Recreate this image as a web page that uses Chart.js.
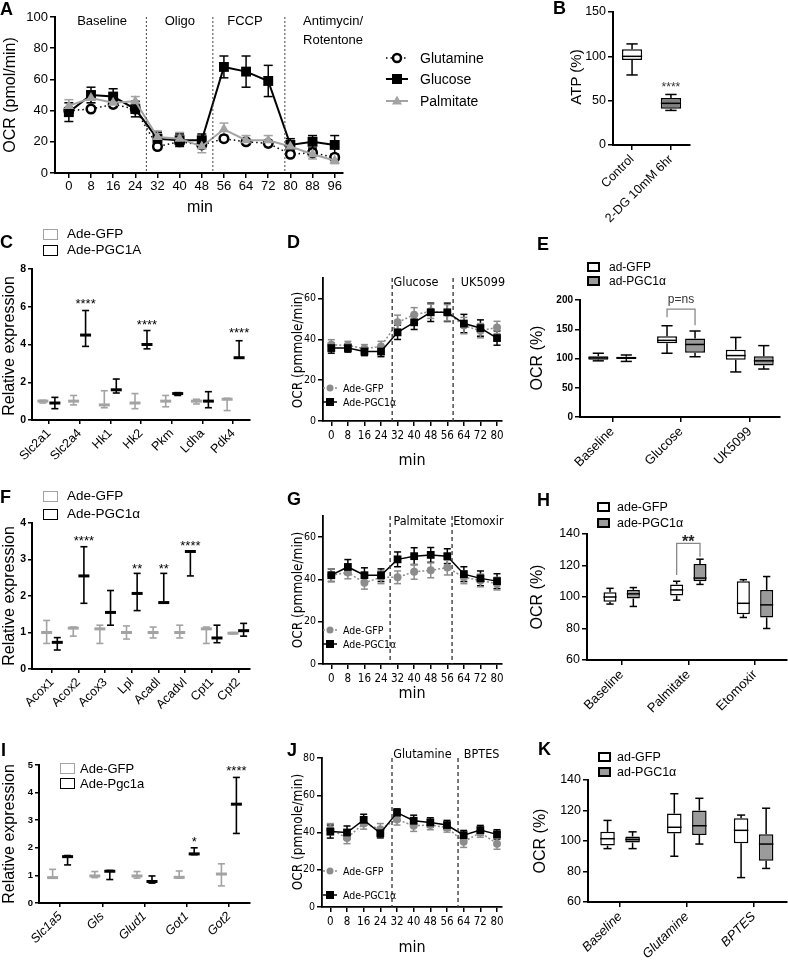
<!DOCTYPE html>
<html><head><meta charset="utf-8">
<script src="https://cdn.jsdelivr.net/npm/chart.js@4.4.1/dist/chart.umd.min.js"></script>
<style>
body{margin:0;background:#fff;}
#root{position:relative;width:788px;height:960px;overflow:hidden;background:#fff;color:#000;}
.t{position:absolute;white-space:nowrap;line-height:1;}
.bx{position:absolute;box-sizing:border-box;}
canvas{position:absolute;}
</style></head><body><div id="root"></div>
<script>
// ---------- DATA ----------
// Panel A
const aTimes = [0,8,16,24,32,40,48,56,64,72,80,88,96];
const aGlutamine = [40,41,44,41,17,20,18,22,20,19,12,13,10];
const aGlutamineSem = [2,2,2,2,2,2,2,2,2,2,2,2,2];
const aGlucose = [39,50,49,41,22,21,21,68,65,59,18,20,18];
const aGlucoseSem = [6,5,5,5,4,4,4,7,10,10,4,4,6];
const aPalmitate = [43,48,45,46,23,22,17,28,21,21,17,12,8];
const aPalmitateSem = [4,3,3,3,4,4,4,4,3,3,3,3,2];
const aYTicks = [0,20,40,60,80,100];
// Panel B
const bCats = ['Control','2-DG 10mM 6hr'];
const bMin = [79,39], bQ1 = [96,41], bMed = [100,47], bQ3 = [108,53], bMax = [114,57];
const bYTicks = [0,50,100,150];
// Panel C
const cGenes = ['Slc2a1','Slc2a4','Hk1','Hk2','Pkm','Ldha','Pdk4'];
const cGfp = [1.0,1.0,0.8,0.9,1.0,1.0,1.1];
const cGfpLo = [0.9,0.8,0.65,0.6,0.7,0.85,0.5];
const cGfpHi = [1.05,1.3,1.55,1.4,1.3,1.1,1.15];
const cPgc = [0.9,4.5,1.6,4.0,1.4,1.0,3.3];
const cPgcLo = [0.6,3.9,1.43,3.77,1.3,0.65,3.3];
const cPgcHi = [1.2,5.8,2.17,4.74,1.45,1.5,4.2];
const cYTicks = [0,2,4,6,8];
// Panel D
const dTimes = [0,8,16,24,32,40,48,56,64,72,80];
const dGfp = [37.3,37,35.4,36.5,48.3,52,53.7,53,46.7,44.2,45.8];
const dGfpSem = [2.5,2,2,2.5,3.5,3.5,3.5,4,4,3.5,3];
const dPgc = [35.7,35.7,34,34,43.4,48.3,53.2,53.2,47.7,45.5,40.6];
const dPgcSem = [2.5,2,2,2.5,3.5,3.5,4.5,4.5,4.5,4,3.5];
const dYTicks = [0,20,40,60];
// Panel E
const eCats = ['Baseline','Glucose','UK5099'];
const eGfpMin = [96,109,77], eGfpQ1 = [98,126,98], eGfpMed = [101,131,105], eGfpQ3 = [104,138,115], eGfpMax = [109,156,136];
const ePgcMin = [95,103,82], ePgcQ1 = [99,110,88], ePgcMed = [101,124,96], ePgcQ3 = [103,134,104], ePgcMax = [106,147,122];
const eYTicks = [0,50,100,150,200];
// Panel F
const fGenes = ['Acox1','Acox2','Acox3','Lpl','Acadl','Acadvl','Cpt1','Cpt2'];
const fGfp = [1.0,1.12,1.1,1.0,1.0,1.0,1.1,0.98];
const fGfpLo = [0.7,0.9,0.7,0.82,0.85,0.85,0.7,0.96];
const fGfpHi = [1.33,1.15,1.2,1.18,1.15,1.2,1.15,1.0];
const fPgc = [0.73,2.55,1.55,2.07,1.82,3.22,0.85,1.05];
const fPgcLo = [0.52,1.8,1.2,1.6,1.82,2.55,0.72,0.9];
const fPgcHi = [0.86,3.35,2.15,2.62,2.62,3.22,1.2,1.25];
const fYTicks = [0,1,2,3,4];
// Panel G
const gTimes = [0,8,16,24,32,40,48,56,64,72,80];
const gGfp = [42,43.3,38.4,41,41,43.6,44.3,45.6,41,39.5,38];
const gGfpSem = [3,3,3,3,3,3.5,3.5,3.5,3,3,3];
const gPgc = [42,45.9,42,42,49.5,51,51.6,51,42.5,40.5,39.2];
const gPgcSem = [3,3.5,3.5,3,3.5,4,3.5,3.5,3.5,3.5,3.5];
const gYTicks = [0,20,40,60];
// Panel H
const hCats = ['Baseline','Palmitate','Etomoxir'];
const hGfpMin = [95.5,98,87], hGfpQ1 = [97,101,89], hGfpMed = [100,104.5,96], hGfpQ3 = [103,108,110], hGfpMax = [105.5,110,111];
const hPgcMin = [94,108,80], hPgcQ1 = [99,110,87], hPgcMed = [102,112,95], hPgcQ3 = [104.5,121,104.5], hPgcMax = [106,124,113];
const hYTicks = [60,80,100,120,140];
// Panel I
const iGenes = ['Slc1a5','Gls','Glud1','Got1','Got2'];
const iGfp = [0.92,0.98,0.98,0.93,1.05];
const iGfpLo = [0.92,0.92,0.9,0.9,0.62];
const iGfpHi = [1.22,1.14,1.14,1.16,1.42];
const iPgc = [1.68,1.15,0.78,1.78,3.58];
const iPgcLo = [1.38,0.85,0.72,1.75,2.52];
const iPgcHi = [1.72,1.18,0.98,2.0,4.55];
const iYTicks = [0,1,2,3,4,5];
// Panel J
const jTimes = [0,8,16,24,32,40,48,56,64,72,80];
const jGfp = [41.8,37,44.8,41.8,47,43.6,44,42.7,35,40,34];
const jGfpSem = [3,3,3,3,3,3,2.5,2.5,3,2.5,3];
const jPgc = [40.5,40,46.8,39.6,50.7,46.3,45.4,44,38.6,41.3,39];
const jPgcSem = [3.5,3.5,3,2.5,2,3,2.5,2.5,2.5,2.5,2.5];
const jYTicks = [0,20,40,60,80];
// Panel K
const kCats = ['Baseline','Glutamine','BPTES'];
const kGfpMin = [95,90,76], kGfpQ1 = [97,105,98.5], kGfpMed = [101.5,109,107], kGfpQ3 = [106,118,115], kGfpMax = [113.5,131,117];
const kPgcMin = [95,98,82], kPgcQ1 = [99,104,87], kPgcMed = [101,110,98], kPgcQ3 = [103,120,104.5], kPgcMax = [106,128,121.5];
const kYTicks = [60,80,100,120,140];

// ---------- HELPERS ----------
const F_S = "'Liberation Sans', Arial, Helvetica, sans-serif";
const F_N = "'Liberation Sans Narrow', 'Arial Narrow', 'DejaVu Sans Condensed', 'Liberation Sans', sans-serif";
const GRAY = '#a3a3a3', MGRAY = '#8c8c8c', BOXGRAY = '#9b9b9b';
const root = document.getElementById('root');

function seg(ctx,x1,y1,x2,y2){ctx.beginPath();ctx.moveTo(x1,y1);ctx.lineTo(x2,y2);ctx.stroke();}

function txt(x,y,s,o={}){
  const d=document.createElement('div'); d.className='t'; d.textContent=s;
  d.style.left=x+'px'; d.style.top=y+'px';
  d.style.fontSize=(o.size||14)+'px'; d.style.fontFamily=o.fam||F_S;
  if(o.bold) d.style.fontWeight='bold';
  if(o.italic) d.style.fontStyle='italic';
  if(o.color) d.style.color=o.color;
  d.style.transform = o.rot ? 'translate(-50%,-50%) rotate(-90deg)' : (o.left ? 'translate(0,-50%)' : (o.raw ? 'none' : 'translate(-50%,-50%)'));
  root.appendChild(d);
}
function letter(x,capTop,s){ txt(x,capTop-2,s,{size:18,bold:true,raw:true}); }
function lbox(x,yc,w,h,fill,border,bw){
  const d=document.createElement('div'); d.className='bx';
  d.style.left=x+'px'; d.style.top=(yc-h/2)+'px'; d.style.width=w+'px'; d.style.height=h+'px';
  d.style.background=fill; d.style.border=bw+'px solid '+border; root.appendChild(d);
}

function marker(ctx,style,x,y,r,color,fill,bw){
  ctx.save(); ctx.setLineDash([]); ctx.fillStyle=fill||color; ctx.strokeStyle=color; ctx.lineWidth=bw||0;
  ctx.beginPath();
  if(style==='circle') ctx.arc(x,y,r,0,Math.PI*2);
  else if(style==='rect') ctx.rect(x-r,y-r,2*r,2*r);
  else { ctx.moveTo(x,y-r*1.1); ctx.lineTo(x+r,y+r*0.7); ctx.lineTo(x-r,y+r*0.7); ctx.closePath(); }
  ctx.fill(); if(bw) ctx.stroke(); ctx.restore();
}

const errPlugin = {
  id:'errbars',
  beforeDatasetsDraw(chart){
    const ctx=chart.ctx, ys=chart.scales.y;
    chart.data.datasets.forEach((ds,di)=>{
      if(!ds.sem) return;
      const meta=chart.getDatasetMeta(di);
      ctx.save(); ctx.strokeStyle=ds.borderColor; ctx.lineWidth=ds.errW||1.5; ctx.setLineDash([]);
      meta.data.forEach((pt,i)=>{
        const v=ds.data[i].y, e=ds.sem[i];
        const y1=ys.getPixelForValue(v-e), y2=ys.getPixelForValue(v+e), c=(ds.capW||8)/2;
        seg(ctx,pt.x,y1,pt.x,y2); seg(ctx,pt.x-c,y1,pt.x+c,y1); seg(ctx,pt.x-c,y2,pt.x+c,y2);
      });
      ctx.restore();
    });
  },
  afterDatasetsDraw(chart){
    const ctx=chart.ctx, ys=chart.scales.y;
    chart.data.datasets.forEach((ds,di)=>{
      const meta=chart.getDatasetMeta(di);
      if(ds.lo){
        ctx.save(); ctx.strokeStyle=ds.markColor;
        meta.data.forEach((b,i)=>{
          const x=b.x, v=ds.data[i].y;
          const yl=ys.getPixelForValue(ds.lo[i]), yh=ys.getPixelForValue(ds.hi[i]), yv=ys.getPixelForValue(v);
          ctx.lineWidth=1.6; seg(ctx,x,yl,x,yh);
          if(ds.lo[i]<v) seg(ctx,x-3.5,yl,x+3.5,yl);
          if(ds.hi[i]>v) seg(ctx,x-3.5,yh,x+3.5,yh);
          ctx.lineWidth=3; seg(ctx,x-5.5,yv,x+5.5,yv);
        });
        ctx.restore();
      }
      if(ds.meds){
        ctx.save(); ctx.strokeStyle='#000'; ctx.lineWidth=1.5;
        meta.data.forEach((b,i)=>{
          const x=b.x, w=b.width, q1=ds.data[i].y[0], q3=ds.data[i].y[1];
          const pq1=ys.getPixelForValue(q1), pq3=ys.getPixelForValue(q3);
          const pmin=ys.getPixelForValue(ds.mins[i]), pmax=ys.getPixelForValue(ds.maxs[i]), pmed=ys.getPixelForValue(ds.meds[i]);
          const c=w*0.28;
          seg(ctx,x,pq3,x,pmax); seg(ctx,x-c,pmax,x+c,pmax);
          seg(ctx,x,pq1,x,pmin); seg(ctx,x-c,pmin,x+c,pmin);
          seg(ctx,x-w/2,pmed,x+w/2,pmed);
        });
        ctx.restore();
      }
    });
  }
};

function annotPlugin(items){
  return { id:'annot', afterDatasetsDraw(chart){
    const ctx=chart.ctx, xs=chart.scales.x, ys=chart.scales.y, ca=chart.chartArea;
    items.forEach(it=>{
      ctx.save();
      if(it.t==='v'){
        const x=xs.getPixelForValue(it.x); ctx.strokeStyle=it.c||'#000'; ctx.lineWidth=it.w||1; ctx.setLineDash(it.d||[]);
        seg(ctx,x,ca.top,x,ca.bottom);
      } else if(it.t==='b'){
        const x1=chart.getDatasetMeta(0).data[it.i].x, x2=chart.getDatasetMeta(1).data[it.i].x, yt=ys.getPixelForValue(it.top);
        ctx.strokeStyle=it.c||'#777'; ctx.lineWidth=1.3; ctx.beginPath();
        ctx.moveTo(x1,ys.getPixelForValue(it.y1)); ctx.lineTo(x1,yt); ctx.lineTo(x2,yt); ctx.lineTo(x2,ys.getPixelForValue(it.y2)); ctx.stroke();
      } else {
        const x = it.ds!=null ? chart.getDatasetMeta(it.ds).data[it.i].x : xs.getPixelForValue(it.x);
        let y = ys.getPixelForValue(it.y);
        ctx.font=it.f; ctx.fillStyle=it.c||'#000'; ctx.textAlign='center'; ctx.textBaseline='middle';
        if(it.star) y += it.sz*0.25;
        ctx.fillText(it.s,x,y);
      }
      ctx.restore();
    });
  }};
}
function legPlugin(items){
  return { id:'mleg', afterDraw(chart){
    const ctx=chart.ctx, ox=chart.$ox, oy=chart.$oy;
    items.forEach(it=>{
      ctx.save(); ctx.strokeStyle=it.c; ctx.lineWidth=it.lw||1.5; ctx.setLineDash(it.d||[]);
      seg(ctx,it.x1-ox,it.y-oy,it.x2-ox,it.y-oy); ctx.restore();
      marker(ctx,it.s,(it.x1+it.x2)/2-ox,it.y-oy,it.r,it.c,it.fill,it.bw);
    });
  }};
}

function font(size,fam,weight,style){ return {size, family:fam||F_S, weight:weight||'normal', style:style||'normal'}; }
function yAx(min,max,ticks,fnt,o={}){
  return { type:'linear', min, max, offset:false,
    afterBuildTicks: s => { s.ticks = ticks.map(v=>({value:v})); },
    ticks:{ font:fnt, color:'#000', padding:o.pad ?? 2, autoSkip:false, callback:v=>String(v) },
    grid:{ display:true, drawOnChartArea:false, drawTicks:true, tickLength:o.tl ?? 5, color:'#000', lineWidth:o.lw ?? 1.5, offset:false },
    border:{ display:true, color:'#000', width:o.bw ?? 2 } };
}
function xAx(min,max,ticks,fnt,o={}){
  const s=yAx(min,max,ticks,fnt,o);
  s.ticks.maxRotation=o.rot||0; s.ticks.minRotation=o.rot||0;
  if(o.labels) s.ticks.callback = v => (o.labels[Math.round(v)] ?? '');
  return s;
}

function mk(box,area,config){
  const cv=document.createElement('canvas');
  cv.width=box.w; cv.height=box.h;
  cv.style.left=box.l+'px'; cv.style.top=box.t+'px'; cv.style.width=box.w+'px'; cv.style.height=box.h+'px';
  root.appendChild(cv);
  const o=config.options;
  o.responsive=false; o.maintainAspectRatio=false; o.animation=false; o.devicePixelRatio=1;
  o.layout={autoPadding:false, padding:{left:0,bottom:0,top:area.t-box.t,right:box.l+box.w-area.r}};
  o.scales.x.afterFit = s => { s.height = box.t+box.h-area.b; };
  o.scales.y.afterFit = s => { s.width = area.l-box.l; };
  o.plugins=Object.assign({legend:{display:false},tooltip:{enabled:false}},o.plugins||{});
  o.events=[];
  return new Chart(cv,config);
}
function withOffset(box, config){ config.plugins=config.plugins||[]; config.plugins.unshift({id:'off',beforeInit(c){c.$ox=box.l;c.$oy=box.t;}}); return config; }

function lineDs(xs,ys,sem,o){
  return { type:'line', data:xs.map((x,i)=>({x, y:ys[i]})), sem,
    borderColor:o.color, backgroundColor:o.fill||o.color,
    pointBackgroundColor:o.fill||o.color, pointBorderColor:o.color, pointBorderWidth:o.bw||0,
    pointStyle:o.style, pointRadius:o.r, borderWidth:o.lw, borderDash:o.dash||[], tension:0, clip:false,
    capW:o.cap||8, errW:o.ew||1.5 };
}
function exprDs(vals,lo,hi,color,cp){
  return { data:vals.map((v,i)=>({x:i,y:v})), lo, hi, markColor:color,
    backgroundColor:'rgba(0,0,0,0)', borderWidth:0, categoryPercentage:cp, barPercentage:0.9 };
}
function boxDs(q1,q3,mins,meds,maxs,fill,cp,bp){
  return { data:q1.map((q,i)=>({x:i,y:[q,q3[i]]})), mins, meds, maxs,
    backgroundColor:fill, borderColor:'#000', borderWidth:1.5, borderSkipped:false, categoryPercentage:cp, barPercentage:bp };
}
const idx = n => Array.from({length:n},(_,i)=>i);

// ---------- PANEL A ----------
{
  const box={l:0,t:0,w:500,h:200};
  const ft='13px '+F_S;
  mk(box,{l:55,r:343,t:17,b:173},withOffset(box,{
    type:'line',
    data:{datasets:[
      lineDs(aTimes,aPalmitate,aPalmitateSem,{color:GRAY,style:'triangle',r:6,lw:2,cap:9}),
      lineDs(aTimes,aGlucose,aGlucoseSem,{color:'#000',style:'rect',r:7,lw:2,cap:9}),
      lineDs(aTimes,aGlutamine,aGlutamineSem,{color:'#000',style:'circle',r:4.3,lw:1.5,dash:[1.5,3],fill:'#fff',bw:2.5,cap:8})
    ]},
    options:{scales:{x:xAx(-5,99,aTimes,font(13),{pad:1}), y:yAx(0,100,aYTicks,font(13),{pad:2})}},
    plugins:[errPlugin, annotPlugin([
      {t:'v',x:28,d:[2,2],c:'#444'},{t:'v',x:52,d:[2,2],c:'#444'},{t:'v',x:78,d:[2,2],c:'#444'},
      {s:'Baseline',x:12,y:97.4,f:ft},{s:'Oligo',x:40.1,y:97.4,f:ft},{s:'FCCP',x:63.6,y:97.4,f:ft},
      {s:'Antimycin/',x:95.4,y:97.4,f:ft},{s:'Rotentone',x:95.4,y:85.3,f:ft}
    ]), legPlugin([
      {x1:386,x2:408,y:58,c:'#000',d:[1.5,3],s:'circle',r:4,fill:'#fff',bw:2.5},
      {x1:386,x2:408,y:79,c:'#000',lw:2,s:'rect',r:5},
      {x1:386,x2:408,y:101,c:GRAY,lw:2,s:'triangle',r:5}
    ])]
  }));
  txt(10,95,'OCR (pmol/min)',{size:16,rot:true});
  txt(200,207,'min',{size:16});
  txt(420,58,'Glutamine',{size:14,left:true});
  txt(420,79,'Glucose',{size:14,left:true});
  txt(420,101,'Palmitate',{size:14,left:true});
  letter(0,2,'A');
}
// ---------- PANEL B ----------
{
  const box={l:520,t:0,w:260,h:235};
  mk(box,{l:613,r:690,t:12,b:145},withOffset(box,{
    type:'bar',
    data:{datasets:[boxDs(bQ1,bQ3,bMin,bMed,bMax,['#fff','#808080'],1,0.52)]},
    options:{scales:{x:xAx(-0.49,1.49,idx(2),font(12.5),{labels:bCats,rot:45,pad:2}), y:yAx(0,150,bYTicks,font(12.5),{pad:2})}},
    plugins:[errPlugin, annotPlugin([{s:'****',x:1,y:68,f:'12px '+F_S,sz:12,star:true,c:'#333'}])]
  }));
  txt(575,77,'ATP (%)',{size:15,rot:true});
  letter(553,1,'B');
}
// ---------- PANEL C ----------
{
  const box={l:0,t:225,w:265,h:260};
  const sf='13px '+F_S;
  mk(box,{l:32,r:250,t:269,b:420},withOffset(box,{
    type:'bar',
    data:{datasets:[exprDs(cGfp,cGfpLo,cGfpHi,GRAY,0.78), exprDs(cPgc,cPgcLo,cPgcHi,'#000',0.78)]},
    options:{scales:{x:xAx(-0.55,6.55,idx(7),font(12.5),{labels:cGenes,rot:45,pad:2,tl:4}), y:yAx(0,8,cYTicks,font(10.5,F_S,'bold'),{pad:2,tl:4})}},
    plugins:[errPlugin, annotPlugin([
      {s:'****',ds:1,i:1,y:6.3,f:sf,sz:13,star:true},{s:'****',ds:1,i:3,y:5.2,f:sf,sz:13,star:true},{s:'****',ds:1,i:6,y:4.77,f:sf,sz:13,star:true}
    ])]
  }));
  txt(9,346,'Relative expression',{size:16,rot:true});
  lbox(43,234,15,11,'#fff',GRAY,1.5); lbox(43,250,15,11,'#fff','#000',1.5);
  txt(67,234,'Ade-GFP',{size:13.5,left:true}); txt(67,250,'Ade-PGC1A',{size:13.5,left:true});
  letter(0,235,'C');
}
// ---------- line panels D, G, J ----------
function linePanel(box,area,times,gfp,gfpSem,pgc,pgcSem,yMax,yTicks,vl,labels,legY){
  const lf='12.5px '+F_N;
  mk(box,area,withOffset(box,{
    type:'line',
    data:{datasets:[
      lineDs(times,pgc,pgcSem,{color:'#000',style:'rect',r:5.5,lw:1.5,cap:7}),
      lineDs(times,gfp,gfpSem,{color:MGRAY,style:'circle',r:4,lw:1.5,dash:[2,2],cap:7})
    ]},
    options:{scales:{x:xAx(-4,82.4,times,font(11.5,F_N),{pad:3,bw:1.8}), y:yAx(0,yMax,yTicks,font(10.5,F_N),{pad:2,bw:1.8})}},
    plugins:[errPlugin, annotPlugin([
      {t:'v',x:vl[0],d:[4,3],c:'#333',w:1.3},{t:'v',x:vl[1],d:[4,3],c:'#333',w:1.3},
      {s:labels[0].s,x:labels[0].x,y:labels[0].y,f:lf},{s:labels[1].s,x:labels[1].x,y:labels[1].y,f:lf}
    ]), legPlugin([
      {x1:323,x2:337,y:legY[0],c:MGRAY,d:[2,2],s:'circle',r:3.5},
      {x1:323,x2:337,y:legY[1],c:'#000',s:'rect',r:4}
    ])]
  }));
  txt(343,legY[0],'Ade-GFP',{size:10.5,fam:F_N,left:true});
  txt(343,legY[1],'Ade-PGC1α',{size:10.5,fam:F_N,left:true});
}
{
  linePanel({l:270,t:230,w:260,h:220},{l:323,r:502,t:278,b:421},dTimes,dGfp,dGfpSem,dPgc,dPgcSem,70,dYTicks,[29.4,58.8],
    [{s:'Glucose',x:40.9,y:67.7},{s:'UK5099',x:73.2,y:67.7}],[388,402]);
  txt(298,350,'OCR (pmmole/min)',{size:13.5,fam:F_N,rot:true});
  txt(412,460,'min',{size:16,fam:F_N});
  letter(287,235,'D');

  linePanel({l:270,t:485,w:260,h:205},{l:323,r:502,t:516,b:664},gTimes,gGfp,gGfpSem,gPgc,gPgcSem,70,gYTicks,[28.4,58.3],
    [{s:'Palmitate',x:42.8,y:67.2},{s:'Etomoxir',x:71.0,y:67.2}],[630,644]);
  txt(298,590,'OCR (pmmole/min)',{size:13.5,fam:F_N,rot:true});
  txt(412,693,'min',{size:16,fam:F_N});
  letter(287,492,'G');

  linePanel({l:270,t:735,w:260,h:200},{l:322,r:502,t:758,b:907},jTimes,jGfp,jGfpSem,jPgc,jPgcSem,80,jYTicks,[29.6,61.3],
    [{s:'Glutamine',x:44.2,y:81.6},{s:'BPTES',x:72.6,y:81.6}],[871,895]);
  txt(298,832,'OCR (pmmole/min)',{size:13.5,fam:F_N,rot:true});
  txt(412,947,'min',{size:16,fam:F_N});
  letter(287,743,'J');
}
// ---------- box panels E, H, K ----------
{
  const box={l:530,t:230,w:258,h:255};
  mk(box,{l:580,r:780,t:300,b:417},withOffset(box,{
    type:'bar',
    data:{datasets:[boxDs(eGfpQ1,eGfpQ3,eGfpMin,eGfpMed,eGfpMax,'#fff',0.815,0.71), boxDs(ePgcQ1,ePgcQ3,ePgcMin,ePgcMed,ePgcMax,BOXGRAY,0.815,0.71)]},
    options:{scales:{x:xAx(-0.47,2.44,idx(3),font(13),{labels:eCats,rot:45,pad:2}), y:yAx(0,200,eYTicks,font(10,F_S,'bold'),{pad:2})}},
    plugins:[errPlugin, annotPlugin([{t:'b',i:1,top:184.5,y1:170.7,y2:157,c:'#888'},{s:'p=ns',x:1,y:200,f:'12px '+F_S,c:'#333'}])]
  }));
  txt(537,358,'OCR (%)',{size:16,rot:true});
  lbox(587,267,13,10,'#fff','#000',2); lbox(587,281,13,10,BOXGRAY,'#000',2);
  txt(609,267,'ad-GFP',{size:12,left:true}); txt(609,281,'ad-PGC1α',{size:12,left:true});
  letter(537,237,'E');
}
{
  const box={l:530,t:485,w:258,h:250};
  mk(box,{l:587,r:787,t:534,b:660},withOffset(box,{
    type:'bar',
    data:{datasets:[boxDs(hGfpQ1,hGfpQ3,hGfpMin,hGfpMed,hGfpMax,'#fff',0.70,0.56), boxDs(hPgcQ1,hPgcQ3,hPgcMin,hPgcMed,hPgcMax,BOXGRAY,0.70,0.56)]},
    options:{scales:{x:xAx(-0.52,2.48,idx(3),font(13),{labels:hCats,rot:45,pad:2}), y:yAx(60,140,hYTicks,font(12.5),{pad:2})}},
    plugins:[errPlugin, annotPlugin([{t:'b',i:1,top:134,y1:114,y2:125.6,c:'#888'},{s:'**',x:1,y:137.3,f:'bold 16px '+F_S,sz:16,star:true,c:'#222'}])]
  }));
  txt(537,597,'OCR (%)',{size:16,rot:true});
  lbox(597,507,13,10,'#fff','#000',2); lbox(597,523,13,10,BOXGRAY,'#000',2);
  txt(617,507,'ade-GFP',{size:12.5,left:true}); txt(617,523,'ade-PGC1α',{size:12.5,left:true});
  letter(537,493,'H');
}
{
  const box={l:530,t:735,w:258,h:225};
  mk(box,{l:588,r:787,t:780,b:902},withOffset(box,{
    type:'bar',
    data:{datasets:[boxDs(kGfpQ1,kGfpQ3,kGfpMin,kGfpMed,kGfpMax,'#fff',0.75,0.58), boxDs(kPgcQ1,kPgcQ3,kPgcMin,kPgcMed,kPgcMax,BOXGRAY,0.75,0.58)]},
    options:{scales:{x:xAx(-0.48,2.5,idx(3),font(13,F_S,'normal','italic'),{labels:kCats,rot:45,pad:2}), y:yAx(60,140,kYTicks,font(12.5),{pad:2})}},
    plugins:[errPlugin]
  }));
  txt(540,841,'OCR (%)',{size:16,rot:true});
  lbox(598,757,13,10,'#fff','#000',2); lbox(598,772,13,10,BOXGRAY,'#000',2);
  txt(617,757,'ad-GFP',{size:12.5,left:true}); txt(617,772,'ad-PGC1α',{size:12.5,left:true});
  letter(538,742,'K');
}
// ---------- PANEL F ----------
{
  const box={l:0,t:485,w:265,h:250};
  const sf='13px '+F_S;
  mk(box,{l:32,r:250,t:523,b:669},withOffset(box,{
    type:'bar',
    data:{datasets:[exprDs(fGfp,fGfpLo,fGfpHi,GRAY,0.8), exprDs(fPgc,fPgcLo,fPgcHi,'#000',0.8)]},
    options:{scales:{x:xAx(-0.75,7.44,idx(8),font(12.5),{labels:fGenes,rot:45,pad:2,tl:4}), y:yAx(0,4,fYTicks,font(10.5,F_S,'bold'),{pad:2,tl:4})}},
    plugins:[errPlugin, annotPlugin([
      {s:'****',ds:1,i:1,y:3.58,f:sf,sz:13,star:true},{s:'**',ds:1,i:3,y:2.81,f:sf,sz:13,star:true},
      {s:'**',ds:1,i:4,y:2.81,f:sf,sz:13,star:true},{s:'****',ds:1,i:5,y:3.44,f:sf,sz:13,star:true}
    ])]
  }));
  txt(9,596,'Relative expression',{size:16,rot:true});
  lbox(43,496,15,11,'#fff',GRAY,1.5); lbox(43,514,15,11,'#fff','#000',1.5);
  txt(67,496,'Ade-GFP',{size:13.5,left:true}); txt(67,514,'Ade-PGC1α',{size:13.5,left:true});
  letter(0,490,'F');
}
// ---------- PANEL I ----------
{
  const box={l:0,t:735,w:265,h:225};
  const sf='13px '+F_S;
  mk(box,{l:39,r:250,t:765,b:903},withOffset(box,{
    type:'bar',
    data:{datasets:[exprDs(iGfp,iGfpLo,iGfpHi,GRAY,0.71), exprDs(iPgc,iPgcLo,iPgcHi,'#000',0.71)]},
    options:{scales:{x:xAx(-0.5,4.5,idx(5),font(12.5,F_S,'normal','italic'),{labels:iGenes,rot:45,pad:2,tl:4}), y:yAx(0,5,iYTicks,font(9.5,F_S,'bold'),{pad:2,tl:4})}},
    plugins:[errPlugin, annotPlugin([
      {s:'*',ds:1,i:3,y:2.3,f:sf,sz:13,star:true},{s:'****',ds:1,i:4,y:4.88,f:sf,sz:13,star:true}
    ])]
  }));
  txt(9,834,'Relative expression',{size:16,rot:true});
  lbox(60,768,15,11,'#fff',GRAY,1.5); lbox(60,783,15,11,'#fff','#000',1.5);
  txt(80,768,'Ade-GFP',{size:13,left:true}); txt(80,783,'Ade-Pgc1a',{size:13,left:true});
  letter(1,743,'I');
}
</script></body></html>
